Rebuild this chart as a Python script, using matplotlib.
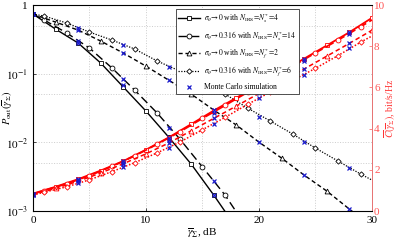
import matplotlib
matplotlib.use("Agg")
import matplotlib.pyplot as plt
from matplotlib.ticker import FixedLocator, NullFormatter

plt.rcParams['font.family'] = ['Liberation Serif', 'DejaVu Serif']
plt.rcParams['mathtext.fontset'] = 'stix'

# outage probability (left axis)
snr_a = [0, 2, 4, 6, 8, 10, 12, 14, 16, 18]
pout_a = [0.74, 0.447, 0.28, 0.143, 0.064, 0.0286, 0.0120, 0.00484, 0.00171, 0.00057]
snr_b = [0, 1, 3, 5, 7, 9, 11, 13, 15, 17, 19]
pout_b = [0.74, 0.605, 0.391, 0.2365, 0.121, 0.0578, 0.0267, 0.0112, 0.00438, 0.00171, 0.00055]
snr_c = [0, 2, 4, 6, 8, 10, 12, 14, 16, 18, 20, 22, 24, 26, 28, 30]
pout_c = [0.74, 0.565, 0.432, 0.299, 0.200, 0.129, 0.0809, 0.0506, 0.0296, 0.0179,
          0.0101, 0.00592, 0.00334, 0.00196, 0.00107, 0.00059]
snr_d = [0, 1, 3, 5, 7, 9, 11, 13, 15, 17, 19, 21, 23, 25, 27, 29, 30]
pout_d = [0.74, 0.691, 0.547, 0.404, 0.309, 0.229, 0.153, 0.1094, 0.0731, 0.0506, 0.0316,
          0.0205, 0.0132, 0.00827, 0.00535, 0.00346, 0.00283]

# ergodic capacity (right axis)
cap_a = [0.85, 1.18, 1.55, 1.97, 2.43, 2.98, 3.57, 4.22, 4.88, 5.5, 6.12, 6.76, 7.4, 8.04, 8.68, 9.38]
cap_b = [0.83, 1.0, 1.33, 1.72, 2.17, 2.68, 3.25, 3.85, 4.5, 5.13, 5.77, 6.4, 7.04, 7.68, 8.3, 8.95, 9.28]
cap_c = [0.8, 1.1, 1.45, 1.85, 2.3, 2.78, 3.3, 3.9, 4.5, 5.1, 5.71, 6.3, 6.9, 7.52, 8.14, 8.78]
cap_d = [0.78, 0.92, 1.18, 1.52, 1.92, 2.35, 2.83, 3.35, 3.95, 4.55, 5.18, 5.78, 6.35, 6.93, 7.55, 8.2, 8.5]

# Monte Carlo points
snr_mc = [0, 4, 8, 12, 16, 20, 24, 28]
mc_pout_a = [0.74, 0.28, 0.0685, 0.012, 0.0017]
mc_pout_b = [0.74, 0.299, 0.0835, 0.0162, 0.0027]
mc_pout_c = [0.74, 0.432, 0.200, 0.0809, 0.0296, 0.0101, 0.00334, 0.00107]
mc_pout_d = [0.74, 0.462, 0.262, 0.125, 0.058, 0.0234, 0.0101, 0.00424]
mc_cap_a = [0.85, 1.55, 2.43, 3.57, 4.9, 6.1, 7.38, 8.67]
mc_cap_b = [0.83, 1.5, 2.35, 3.45, 4.75, 5.95, 7.3, 8.6]
mc_cap_c = [0.8, 1.45, 2.3, 3.3, 4.5, 5.71, 6.9, 8.14]
mc_cap_d = [0.78, 1.35, 2.14, 3.05, 4.25, 5.48, 6.62, 7.9]

labels = [r'$\sigma_\theta\!\rightarrow\!0$ with $N_{\rm IRS}\!=\!N_s^{*}\!=\!4$',
          r'$\sigma_\theta\!\rightarrow\!0.316$ with $N_{\rm IRS}\!=\!N_s^{*}\!=\!14$',
          r'$\sigma_\theta\!\rightarrow\!0$ with $N_{\rm IRS}\!=\!N_f^{*}\!=\!2$',
          r'$\sigma_\theta\!\rightarrow\!0.316$ with $N_{\rm IRS}\!=\!N_f^{*}\!=\!6$',
          'Monte Carlo simulation']

blue = '#1a1acc'
red = '#ff0000'
ms = 3.5

fig = plt.figure(figsize=(3.97, 2.41), dpi=100)
ax = fig.add_axes([0.083, 0.124, 0.854, 0.855])

ls_b = (0, (6, 3))
ls_c = (0, (3, 2))
ls_d = (0, (1, 1.2))

ax.plot(snr_a, pout_a, color='k', lw=1, ls='-', marker='s', ms=ms, mfc='white', mew=0.6)
ax.plot(snr_b, pout_b, color='k', lw=1, ls=ls_b, marker='o', ms=ms, mfc='white', mew=0.6,
        markevery=list(range(1, len(snr_b))))
ax.plot(snr_c, pout_c, color='k', lw=1, ls=ls_c, marker='^', ms=ms, mfc='white', mew=0.6,
        markevery=slice(1, None, 2))
ax.plot(snr_d, pout_d, color='k', lw=0.9, ls=ls_d, marker='D', ms=ms - 0.8, mfc='white', mew=0.6,
        markevery=list(range(1, len(snr_d) - 1)))
for mc in [mc_pout_a, mc_pout_b, mc_pout_c, mc_pout_d]:
    ax.plot(snr_mc[:len(mc)], mc, ls='none', marker='x', color=blue, ms=3.5, mew=0.9)

ax.set_yscale('log')
ax.set_xlim(0, 30)
ax.set_ylim(1e-3, 1)
ax.set_xticks([0, 10, 20, 30])
ax.xaxis.set_minor_locator(FixedLocator([5, 15, 25]))
ax.set_yticks([1e-3, 1e-2, 1e-1, 1])
ax.set_yticklabels([r'$10^{-3}$', r'$10^{-2}$', r'$10^{-1}$', '1'])
ax.yaxis.set_minor_locator(FixedLocator([0.005, 0.05, 0.5]))
ax.yaxis.set_minor_formatter(NullFormatter())
ax.grid(True, which='both', color='#cccccc', ls=':', lw=0.7)
ax.tick_params(which='both', direction='in', labelsize=8, length=2, width=0.5)
ax.tick_params(which='minor', length=0)
ax.set_xlabel(r'$\overline{\gamma}_\Sigma$, dB', fontsize=8, labelpad=1)
ax.set_ylabel(r'$P_{\rm out}(\overline{\gamma}_\Sigma)$', fontsize=7.5)
ax.yaxis.set_label_coords(-0.052, 0.5)
for s in ax.spines.values():
    s.set_linewidth(0.6)
    s.set_color('#555555')

ax2 = ax.twinx()
ax2.plot(snr_c, cap_a, color=red, lw=1.3, ls='-', marker='s', ms=ms, mfc='white', mew=0.6)
ax2.plot(snr_d, cap_b, color=red, lw=1.3, ls=(0, (5, 2)), marker='o', ms=ms, mfc='white', mew=0.6,
         markevery=list(range(1, len(snr_d) - 1)))
ax2.plot(snr_c, cap_c, color=red, lw=1.1, ls=ls_c, marker='^', ms=ms, mfc='white', mew=0.6,
         markevery=slice(1, None, 2))
ax2.plot(snr_d, cap_d, color=red, lw=1.1, ls=ls_d, marker='D', ms=ms - 0.8, mfc='white', mew=0.6,
         markevery=list(range(1, len(snr_d) - 1)))
for mc in [mc_cap_a, mc_cap_b, mc_cap_c, mc_cap_d]:
    ax2.plot(snr_mc, mc, ls='none', marker='x', color=blue, ms=3.5, mew=0.9)
ax2.set_ylim(0, 10)
ax2.set_yticks([0, 2, 4, 6, 8, 10])
ax2.tick_params(direction='in', labelsize=8, length=2, width=0.5, pad=1.5, colors='#ff5555')
ax2.set_ylabel(r'$\overline{C}(\overline{\gamma}_\Sigma)$, bit/s/Hz', fontsize=7, color='#ff3333')
ax2.yaxis.set_label_coords(1.031, 0.5)
ax2.spines['right'].set_color('#ff7777')
ax2.spines['right'].set_linewidth(0.6)

# legend built from black styles
h = []
h.append(plt.Line2D([], [], color='k', lw=1, ls='-', marker='s', ms=ms, mfc='white', mew=0.6))
h.append(plt.Line2D([], [], color='k', lw=1, ls=ls_b, marker='o', ms=ms, mfc='white', mew=0.6))
h.append(plt.Line2D([], [], color='k', lw=1, ls=ls_c, marker='^', ms=ms, mfc='white', mew=0.6))
h.append(plt.Line2D([], [], color='k', lw=0.9, ls=ls_d, marker='D', ms=ms - 0.8, mfc='white', mew=0.6))
h.append(plt.Line2D([], [], color=blue, ls='none', marker='x', ms=3.5, mew=0.9))
leg = ax2.legend(h, labels, loc='upper left', bbox_to_anchor=(0.41, 1.0), fontsize=5.5,
                 handlelength=2.8, borderpad=0.35, labelspacing=0.5, handletextpad=0.6,
                 fancybox=False, framealpha=1, edgecolor='#333333')
leg.get_frame().set_linewidth(0.6)

fig.savefig('out.png', dpi=100)
